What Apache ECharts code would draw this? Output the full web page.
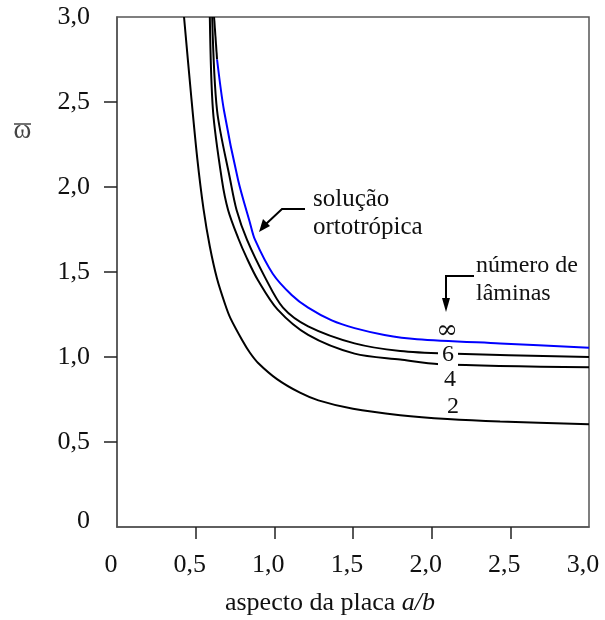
<!DOCTYPE html>
<html>
<head>
<meta charset="utf-8">
<script src="https://cdn.jsdelivr.net/npm/echarts@6/dist/echarts.min.js"></script>
<style>
  html, body { margin: 0; padding: 0; background: #fff; }
  #main { width: 605px; height: 620px; }
</style>
</head>
<body>
<div id="main"></div>
<script>
// values (x = a/b, y = omega bar)
var tickValues = [0.5, 1.0, 1.5, 2.0, 2.5];

var x2 = [0.426, 0.47, 0.51, 0.55, 0.59, 0.636, 0.687, 0.72, 0.795, 0.845, 0.897, 1.017, 1.163, 1.28, 1.5, 1.8, 2.1, 2.435, 3.0];
var y2 = [3.0, 2.55, 2.17, 1.87, 1.65, 1.46, 1.31, 1.23, 1.10, 1.025, 0.965, 0.87, 0.79, 0.745, 0.695, 0.658, 0.635, 0.62, 0.605];

var x4 = [0.59, 0.61, 0.667, 0.706, 0.77, 0.826, 0.897, 1.02, 1.215, 1.51, 1.8, 2.05, 3.0];
var y4 = [3.0, 2.45, 2.04, 1.865, 1.70, 1.58, 1.45, 1.28, 1.13, 1.02, 0.985, 0.958, 0.94];

var x6 = [0.605, 0.636, 0.72, 0.76, 0.826, 0.94, 1.055, 1.215, 1.51, 1.8, 2.1, 3.0];
var y6 = [3.0, 2.45, 2.04, 1.865, 1.69, 1.47, 1.29, 1.18, 1.08, 1.035, 1.02, 1.0];

// orthotropic solution (infinite number of laminae); its top piece is drawn black
var xInfTop = [0.617, 0.636];
var yInfTop = [3.0, 2.75];
var xInf = [0.636, 0.68, 0.77, 0.845, 0.877, 0.99, 1.11, 1.215, 1.365, 1.51, 1.7, 1.907, 2.435, 3.0];
var yInf = [2.75, 2.45, 2.04, 1.79, 1.69, 1.49, 1.365, 1.29, 1.215, 1.17, 1.13, 1.105, 1.08, 1.055];

function pairs(xs, ys) {
  return xs.map(function (v, i) { return [v, ys[i]]; });
}

function fmt(v) {
  if (v === 0) return '0';
  return v.toFixed(1).replace('.', ',');
}

var serif = 'Liberation Serif';
var axisColor = '#555';

function curve(name, xs, ys, color, z) {
  return {
    name: name,
    type: 'line',
    data: pairs(xs, ys),
    showSymbol: false,
    smooth: 0.3,
    clip: true,
    z: z,
    lineStyle: { color: color, width: 2 },
    emphasis: { disabled: true }
  };
}

var chart = echarts.init(document.getElementById('main'), null, { renderer: 'canvas' });

var option = {
  animation: false,
  backgroundColor: '#fff',
  grid: {
    left: 117, right: 16, top: 17, bottom: 93,
    show: true,
    borderColor: axisColor,
    borderWidth: 1.5
  },
  xAxis: {
    type: 'value',
    min: 0, max: 3, interval: 0.5,
    axisLine: { show: true, lineStyle: { color: axisColor, width: 1.5 } },
    axisTick: {
      show: true, inside: false, length: 12,
      customValues: tickValues,
      lineStyle: { color: '#222', width: 1.5 }
    },
    splitLine: { show: false },
    axisLabel: {
      margin: 25,
      fontFamily: serif,
      fontSize: 26,
      color: '#111',
      padding: [0, 12, 0, 0],
      formatter: fmt
    }
  },
  yAxis: {
    type: 'value',
    min: 0, max: 3, interval: 0.5,
    axisLine: { show: true, lineStyle: { color: axisColor, width: 1.5 } },
    axisTick: {
      show: true, inside: false, length: 13,
      customValues: tickValues,
      lineStyle: { color: '#222', width: 1.5 }
    },
    splitLine: { show: false },
    axisLabel: {
      margin: 27,
      fontFamily: serif,
      fontSize: 26,
      color: '#111',
      formatter: function (v) {
        return v === 0 ? '{z|0}' : fmt(v);
      },
      rich: {
        z: { fontFamily: serif, fontSize: 26, color: '#111', padding: [0, 0, 12, 0] }
      }
    }
  },
  series: [
    curve('2', x2, y2, '#000', 2),
    curve('4', x4, y4, '#000', 2),
    curve('6', x6, y6, '#000', 2),
    curve('inf-top', xInfTop, yInfTop, '#000', 2),
    curve('inf', xInf, yInf, '#0000ff', 3)
  ],
  graphic: [
    // y axis symbol: omega with bar
    { type: 'text', x: 22.5, y: 131, z: 10,
      style: { text: 'ω', font: '27px "Liberation Serif"', fill: '#444', align: 'center', verticalAlign: 'middle' } },
    { type: 'line', z: 10,
      shape: { x1: 14, y1: 124, x2: 31, y2: 124 },
      style: { stroke: '#444', lineWidth: 1.5 } },

    // x axis title
    { type: 'text', z: 10, x: 330, y: 603,
      style: {
        text: 'aspecto da placa {i|a/b}',
        font: '26px "Liberation Serif"', fill: '#111',
        align: 'center', verticalAlign: 'middle',
        rich: { i: { fontFamily: serif, fontSize: 26, fontStyle: 'italic', fill: '#111' } }
      } },

    // orthotropic annotation
    { type: 'text', z: 10, x: 313, y: 199,
      style: { text: 'solução', font: '25px "Liberation Serif"', fill: '#111', verticalAlign: 'middle' } },
    { type: 'text', z: 10, x: 313, y: 227,
      style: { text: 'ortotrópica', font: '25px "Liberation Serif"', fill: '#111', verticalAlign: 'middle' } },
    { type: 'polyline', z: 10,
      shape: { points: [[305, 209], [282, 209], [266, 224]] },
      style: { stroke: '#000', lineWidth: 2, fill: null } },
    { type: 'polygon', z: 10,
      shape: { points: [[263, 219], [270, 226], [259, 232]] },
      style: { fill: '#000' } },

    // number of laminae annotation
    { type: 'text', z: 10, x: 476, y: 266,
      style: { text: 'número de', font: '24px "Liberation Serif"', fill: '#111', verticalAlign: 'middle' } },
    { type: 'text', z: 10, x: 476, y: 294,
      style: { text: 'lâminas', font: '24px "Liberation Serif"', fill: '#111', verticalAlign: 'middle' } },
    { type: 'polyline', z: 10,
      shape: { points: [[474, 276], [446, 276], [446, 300]] },
      style: { stroke: '#000', lineWidth: 2, fill: null } },
    { type: 'polygon', z: 10,
      shape: { points: [[442, 298], [450, 298], [446, 312]] },
      style: { fill: '#000' } },

    // curve labels
    { type: 'text', z: 10, x: 447, y: 331,
      style: { text: '∞', font: '26px "DejaVu Serif"', fill: '#111', align: 'center', verticalAlign: 'middle' } },
    { type: 'text', z: 10, x: 448, y: 355,
      style: { text: '6', font: '24px "Liberation Serif"', fill: '#111', align: 'center', verticalAlign: 'middle',
               backgroundColor: '#fff', padding: [0, 4, 0, 4] } },
    { type: 'text', z: 10, x: 450, y: 380,
      style: { text: '4', font: '24px "Liberation Serif"', fill: '#111', align: 'center', verticalAlign: 'middle' } },
    { type: 'text', z: 10, x: 453, y: 407,
      style: { text: '2', font: '24px "Liberation Serif"', fill: '#111', align: 'center', verticalAlign: 'middle' } }
  ]
};

chart.setOption(option);
</script>
</body>
</html>
